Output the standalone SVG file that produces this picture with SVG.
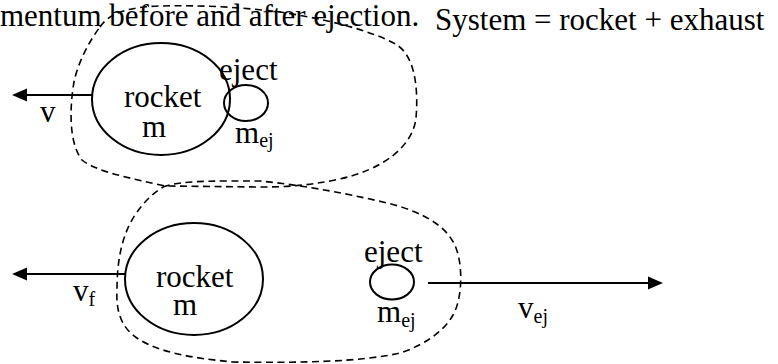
<svg xmlns="http://www.w3.org/2000/svg" width="778" height="364" viewBox="0 0 778 364">
<style>
text{font-family:"Liberation Serif","Times New Roman",serif;font-size:31px;fill:#000}
.sub{font-size:20px}
.body{fill:none;stroke:#000;stroke-width:2}
.sys{fill:none;stroke:#000;stroke-width:1.6;stroke-dasharray:7 4.5}
.vec{stroke:#000;stroke-width:2.2;fill:none}
</style>
<defs>
<marker id="ah" markerUnits="userSpaceOnUse" markerWidth="16" markerHeight="14" refX="0" refY="6.5" orient="auto" overflow="visible">
<path d="M0,0 L15,6.5 L0,13 Z" fill="#000"/>
</marker>
</defs>
<rect width="778" height="364" fill="#fff"/>
<text id="caption" x="0" y="26">mentum before and after ejection.</text>
<text id="system-label" x="435" y="30">System = rocket + exhaust</text>

<g id="system-before">
<path class="sys" d="M100,27 C110,12 130,7 160,6 C200,5 240,7 280,12 C320,18 372,30 397,45 C417,58 418,95 416,118 C413,145 385,170 335,180 C310,185 290,187 260,187 L165,186 C130,178 97,172 82,160 C68,142 70,105 74,82 C78,62 90,40 100,27 Z"/>
</g>
<g id="system-after">
<path class="sys" d="M163,187 C175,182 200,181 230,181 L260,181 C300,185 340,192 383,202 C410,208 440,220 452,240 C464,258 463,298 453,315 C445,330 425,345 400,353 C360,362 300,363 233,362 C190,358 160,352 140,340 C120,328 116,310 117,290 C117,260 122,235 135,215 C145,200 155,192 163,187 Z"/>
</g>

<g id="rocket-before">
<ellipse class="body" cx="161" cy="99" rx="69" ry="56"/>
<text x="124" y="107">rocket</text>
<text x="142" y="137">m</text>
</g>
<g id="eject-before">
<ellipse class="body" cx="246" cy="103" rx="22" ry="18"/>
<text x="219" y="80">eject</text>
<text x="235" y="143">m<tspan class="sub" dy="4">ej</tspan></text>
</g>
<g id="rocket-after">
<ellipse class="body" cx="194" cy="279" rx="69" ry="56"/>
<text x="156" y="287">rocket</text>
<text x="173" y="315">m</text>
</g>
<g id="eject-after">
<ellipse class="body" cx="392" cy="282" rx="22" ry="17.5"/>
<text x="364" y="262">eject</text>
<text x="377" y="322">m<tspan class="sub" dy="5">ej</tspan></text>
</g>

<g id="connectors">
<line class="vec" x1="92" y1="95" x2="27" y2="95" marker-end="url(#ah)"/>
<line class="vec" x1="125" y1="274" x2="27" y2="274" marker-end="url(#ah)"/>
<line class="vec" x1="428" y1="283" x2="648" y2="283" marker-end="url(#ah)"/>
</g>
<g id="vector-labels">
<text x="40" y="122">v</text>
<text x="73" y="301">v<tspan class="sub" dy="5">f</tspan></text>
<text x="518" y="318">v<tspan class="sub" dy="5">ej</tspan></text>
</g>
</svg>
